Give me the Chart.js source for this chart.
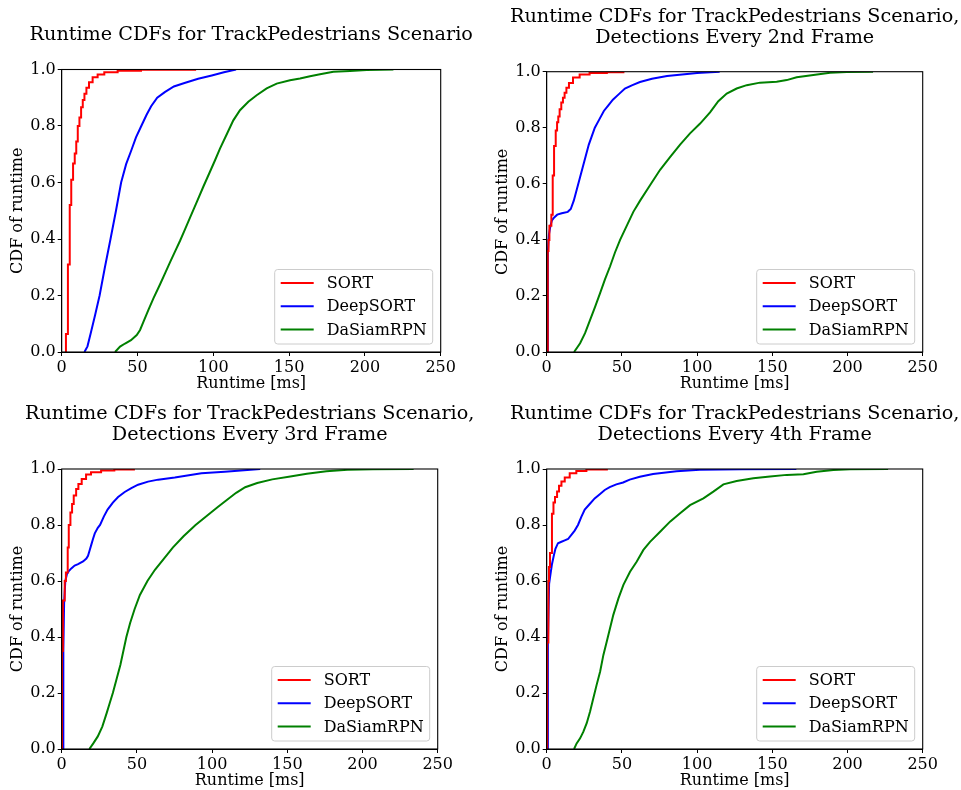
<!DOCTYPE html>
<html>
<head>
<meta charset="utf-8">
<script src="https://cdn.jsdelivr.net/npm/chart.js@4.4.1/dist/chart.umd.min.js"></script>
<style>
  html, body { margin: 0; padding: 0; background: #fff; overflow: hidden; }
  #wrap { position: relative; width: 961px; height: 790px; background: #fff; }
  canvas { position: absolute; }
</style>
</head>
<body>
<div id="wrap">
  <canvas id="c1" width="480" height="395" style="left:0px;top:0px"></canvas>
  <canvas id="c2" width="481" height="395" style="left:480px;top:0px"></canvas>
  <canvas id="c3" width="480" height="395" style="left:0px;top:395px"></canvas>
  <canvas id="c4" width="481" height="395" style="left:480px;top:395px"></canvas>
</div>
<script>
// ---------------- DATA ----------------
const seriesNames = ['SORT', 'DeepSORT', 'DaSiamRPN'];
const xTickValues = [0, 50, 100, 150, 200, 250];
const xTickLabels = ['0', '50', '100', '150', '200', '250'];
const yTickValues = [0, 0.2, 0.4, 0.6, 0.8, 1.0];
const yTickLabels = ['0.0', '0.2', '0.4', '0.6', '0.8', '1.0'];
const xAxisTitle = 'Runtime [ms]';
const yAxisTitle = 'CDF of runtime';

const title1 = ['Runtime CDFs for TrackPedestrians Scenario'];
const title2 = ['Runtime CDFs for TrackPedestrians Scenario,', 'Detections Every 2nd Frame'];
const title3 = ['Runtime CDFs for TrackPedestrians Scenario,', 'Detections Every 3rd Frame'];
const title4 = ['Runtime CDFs for TrackPedestrians Scenario,', 'Detections Every 4th Frame'];

// Panel 1: every frame
const p1SortX = [2.8, 2.8, 4.1, 5.3, 6.3, 7.5, 8.6, 9.6, 10.6, 11.7, 12.8, 13.9, 15.0, 16.3, 18.0, 20.4, 23.7, 28.1, 36.9, 52.3, 88];
const p1SortY = [0, 0.064, 0.31, 0.52, 0.61, 0.667, 0.703, 0.745, 0.80, 0.83, 0.866, 0.892, 0.914, 0.935, 0.955, 0.973, 0.982, 0.99, 0.996, 0.999, 1.0];
const p1DeepX = [15, 17, 19.3, 22, 25, 28.5, 32.2, 35.8, 39.2, 42.5, 46, 49, 52.5, 56, 59, 63, 68, 74, 81, 90, 99, 107, 115];
const p1DeepY = [0, 0.02, 0.07, 0.13, 0.2, 0.3, 0.4, 0.5, 0.6, 0.665, 0.715, 0.76, 0.8, 0.84, 0.87, 0.9, 0.92, 0.94, 0.952, 0.967, 0.979, 0.99, 1.0];
const p1DaX = [35.2, 38.5, 41.8, 45.7, 49.5, 51.7, 53.9, 57.2, 60.5, 64.9, 68.3, 71.5, 74.8, 78, 81.4, 85, 89, 93.4, 97.8, 101, 104.4, 108.8, 113.2, 117.6, 123.1, 128.6, 135.2, 141.8, 150.6, 157.2, 163.8, 170.4, 179.2, 190.2, 201.2, 218.8];
const p1DaY = [0, 0.019, 0.03, 0.042, 0.06, 0.078, 0.107, 0.149, 0.19, 0.24, 0.28, 0.318, 0.356, 0.393, 0.435, 0.48, 0.53, 0.585, 0.638, 0.677, 0.72, 0.77, 0.82, 0.856, 0.886, 0.909, 0.933, 0.95, 0.962, 0.968, 0.976, 0.983, 0.992, 0.995, 0.998, 1.0];

// Panel 2: detections every 2nd frame
const p2SortX = [0.7, 0.7, 1.2, 1.8, 3.1, 4.0, 4.9, 6.0, 6.9, 7.7, 8.6, 9.7, 10.8, 11.9, 13.1, 14.8, 17.5, 21.9, 28.5, 40, 51];
const p2SortY = [0, 0.36, 0.40, 0.45, 0.49, 0.63, 0.735, 0.79, 0.82, 0.84, 0.866, 0.89, 0.907, 0.925, 0.943, 0.96, 0.979, 0.99, 0.995, 0.998, 1.0];
const p2DeepX = [0.7, 0.8, 1.5, 2.5, 3.5, 5, 7, 10, 14, 16, 18, 20, 22, 24, 26, 28, 30, 32, 35, 38, 41, 44, 48, 52, 57, 62, 70, 80, 90, 100, 115];
const p2DeepY = [0, 0.36, 0.42, 0.45, 0.47, 0.48, 0.49, 0.495, 0.5, 0.51, 0.54, 0.58, 0.62, 0.66, 0.70, 0.74, 0.77, 0.80, 0.83, 0.86, 0.88, 0.90, 0.92, 0.94, 0.952, 0.963, 0.975, 0.985, 0.99, 0.995, 1.0];
const p2DaX = [18.2, 22.2, 25.5, 28.8, 32.1, 35.5, 38.8, 42.1, 45.4, 48.8, 53.2, 57.6, 62.1, 68.7, 75.4, 82, 88.7, 95.3, 102, 108.6, 114.1, 119.7, 126.3, 133, 141.8, 152.9, 159.6, 166.2, 177.3, 188.4, 199.5, 217];
const p2DaY = [0, 0.031, 0.067, 0.114, 0.16, 0.21, 0.26, 0.305, 0.355, 0.40, 0.45, 0.50, 0.54, 0.595, 0.65, 0.695, 0.74, 0.78, 0.815, 0.855, 0.895, 0.922, 0.94, 0.952, 0.961, 0.964, 0.97, 0.98, 0.988, 0.996, 0.999, 1.0];

// Panel 3: detections every 3rd frame
const p3SortX = [0.2, 0.2, 0.8, 2.0, 2.8, 4.0, 4.7, 5.8, 6.9, 8.0, 9.6, 11.1, 13.3, 16.2, 19.5, 26.2, 35, 48];
const p3SortY = [0, 0.35, 0.53, 0.6, 0.63, 0.72, 0.8, 0.845, 0.875, 0.905, 0.929, 0.946, 0.964, 0.98, 0.988, 0.995, 0.998, 1.0];
const p3DeepX = [1.0, 1.1, 1.6, 2.4, 3.5, 4.7, 6.4, 8.6, 10.9, 14.2, 16.4, 17.5, 18.6, 19.7, 20.8, 22, 24, 25.5, 28, 30.5, 34, 37.5, 41.9, 46.3, 50.8, 57.4, 64.1, 75.2, 92.9, 108.4, 132];
const p3DeepY = [0, 0.35, 0.52, 0.6, 0.625, 0.635, 0.645, 0.655, 0.66, 0.67, 0.68, 0.69, 0.71, 0.73, 0.75, 0.77, 0.79, 0.80, 0.83, 0.855, 0.88, 0.90, 0.918, 0.932, 0.944, 0.955, 0.962, 0.97, 0.985, 0.99, 1.0];
const p3DaX = [18.4, 21, 24, 27, 30, 32, 34, 36.5, 39, 41, 43, 45.5, 48.5, 52, 57, 62, 68, 74, 81, 89, 97, 104, 110, 116, 122, 130, 140, 152, 163, 176, 190, 207, 234];
const p3DaY = [0, 0.02, 0.045, 0.08, 0.13, 0.165, 0.2, 0.25, 0.3, 0.35, 0.4, 0.45, 0.5, 0.55, 0.6, 0.64, 0.68, 0.72, 0.76, 0.8, 0.835, 0.865, 0.89, 0.915, 0.935, 0.95, 0.963, 0.973, 0.983, 0.992, 0.997, 0.999, 1.0];

// Panel 4: detections every 4th frame
const p4SortX = [0.3, 0.3, 1.1, 1.5, 2.2, 3.5, 4.5, 5.5, 6.9, 8.2, 9.8, 12, 15.3, 19.7, 26.4, 40];
const p4SortY = [0, 0.38, 0.6, 0.65, 0.70, 0.84, 0.88, 0.9, 0.92, 0.94, 0.955, 0.97, 0.985, 0.993, 0.998, 1.0];
const p4DeepX = [0.7, 0.8, 1.6, 2.4, 3.5, 4.7, 5.8, 7.5, 9.8, 12, 14.2, 16.4, 18.6, 20.8, 23.1, 25.3, 28.6, 31.9, 35.3, 38.6, 41.9, 46.3, 50.8, 55.2, 61.9, 70.7, 86.3, 101.8, 130, 166];
const p4DeepY = [0, 0.38, 0.59, 0.62, 0.66, 0.69, 0.715, 0.735, 0.74, 0.745, 0.75, 0.765, 0.78, 0.80, 0.83, 0.855, 0.875, 0.895, 0.91, 0.925, 0.935, 0.945, 0.952, 0.962, 0.972, 0.982, 0.992, 0.997, 0.999, 1.0];
const p4DaX = [18.2, 19.9, 22.2, 24.4, 26.6, 28.8, 31, 33.2, 35.5, 37.7, 39.9, 42.1, 44.3, 47.7, 51, 55.4, 59.8, 64.3, 68.7, 75.4, 82, 88.7, 95.3, 104.2, 110.8, 117.5, 126.3, 137.4, 148.5, 159.6, 170.7, 179.5, 190.6, 201.7, 227];
const p4DaY = [0, 0.02, 0.038, 0.062, 0.092, 0.133, 0.181, 0.229, 0.276, 0.336, 0.383, 0.431, 0.479, 0.538, 0.586, 0.633, 0.669, 0.711, 0.74, 0.776, 0.812, 0.842, 0.871, 0.895, 0.919, 0.945, 0.957, 0.967, 0.973, 0.979, 0.981, 0.99, 0.996, 0.999, 1.0];

// ---------------- STYLE / LAYOUT ----------------
const FONT = "'DejaVu Serif', 'Liberation Serif', serif";
const COLORS = ['#ff0000', '#0000ff', '#008000'];

const panels = [
  { id: 'c1', title: title1, sx: p1SortX, sy: p1SortY, dx: p1DeepX, dy: p1DeepY, gx: p1DaX, gy: p1DaY,
    L: 61.7, R: 440.7, T: 69.5, B: 352, tTop: 24.8, yTitlePad: 8.7, xTitlePad: 1.2 },
  { id: 'c2', title: title2, sx: p2SortX, sy: p2SortY, dx: p2DeepX, dy: p2DeepY, gx: p2DaX, gy: p2DaY,
    L: 66.7, R: 442.7, T: 71.7, B: 352, tTop: 6.8, yTitlePad: 13.7, xTitlePad: 1.2 },
  { id: 'c3', title: title3, sx: p3SortX, sy: p3SortY, dx: p3DeepX, dy: p3DeepY, gx: p3DaX, gy: p3DaY,
    L: 61.7, R: 437.7, T: 74, B: 354, tTop: 8.5, yTitlePad: 8.7, xTitlePad: 0 },
  { id: 'c4', title: title4, sx: p4SortX, sy: p4SortY, dx: p4DeepX, dy: p4DeepY, gx: p4DaX, gy: p4DaY,
    L: 66.7, R: 442.7, T: 74, B: 354, tTop: 8.5, yTitlePad: 13.7, xTitlePad: 0 }
];

const TITLE_SIZE = 19.2, TITLE_LH = 1.1;

function pts(xs, ys) { return xs.map((x, i) => ({ x: x, y: ys[i] })); }

// Center title over the axes (like matplotlib)
const titleCenter = {
  id: 'titleCenter',
  afterLayout(chart) {
    const t = chart.titleBlock;
    if (!t) return;
    const cx = (chart.chartArea.left + chart.chartArea.right) / 2;
    t.left = cx - 240; t.right = cx + 240; t.width = 480;
  }
};

// Spines (all four sides, drawn above the lines) + inner legend
const frameAndLegend = {
  id: 'frameAndLegend',
  afterDatasetsDraw(chart) {
    const ctx = chart.ctx, a = chart.chartArea;
    ctx.save();
    ctx.strokeStyle = '#000';
    ctx.lineWidth = 1.1;
    ctx.strokeRect(a.left, a.top, a.right - a.left, a.bottom - a.top);
    ctx.restore();
  },
  afterDraw(chart) {
    const ctx = chart.ctx, a = chart.chartArea;
    const w = 158, h = 74.5;
    const x = a.right - 8 - w, y = a.bottom - 8 - h;
    ctx.save();
    const r = 3;
    ctx.beginPath();
    ctx.moveTo(x + r, y);
    ctx.arcTo(x + w, y, x + w, y + h, r);
    ctx.arcTo(x + w, y + h, x, y + h, r);
    ctx.arcTo(x, y + h, x, y, r);
    ctx.arcTo(x, y, x + w, y, r);
    ctx.closePath();
    ctx.fillStyle = 'rgba(255,255,255,0.8)';
    ctx.fill();
    ctx.strokeStyle = '#cccccc';
    ctx.lineWidth = 1;
    ctx.stroke();
    ctx.font = '16px ' + FONT;
    ctx.textBaseline = 'middle';
    ctx.textAlign = 'left';
    chart.data.datasets.forEach((ds, i) => {
      const cy = y + 13.4 + i * 23.3;
      ctx.strokeStyle = ds.borderColor;
      ctx.lineWidth = 2;
      ctx.beginPath();
      ctx.moveTo(x + 6, cy);
      ctx.lineTo(x + 39, cy);
      ctx.stroke();
      ctx.fillStyle = '#000';
      ctx.fillText(ds.label, x + 52, cy + 1);
    });
    ctx.restore();
  }
};

panels.forEach(p => {
  const canvas = document.getElementById(p.id);
  const W = canvas.width, H = canvas.height;
  const titlePadBottom = p.T - p.tTop - p.title.length * TITLE_SIZE * TITLE_LH;
  const series = [[p.sx, p.sy, 'before'], [p.dx, p.dy, false], [p.gx, p.gy, false]];
  new Chart(canvas, {
    type: 'line',
    data: {
      datasets: series.map((s, i) => ({
        label: seriesNames[i],
        data: pts(s[0], s[1]),
        borderColor: COLORS[i],
        backgroundColor: COLORS[i],
        borderWidth: 2,
        pointRadius: 0,
        tension: 0,
        stepped: s[2],
        fill: false,
        clip: 0
      }))
    },
    options: {
      responsive: false,
      animation: false,
      devicePixelRatio: 1,
      events: [],
      layout: { padding: { left: 0, right: W - p.R, top: 0, bottom: 0 } },
      plugins: {
        legend: { display: false },
        tooltip: { enabled: false },
        title: {
          display: true,
          text: p.title,
          color: '#000',
          font: { family: FONT, size: TITLE_SIZE, weight: 'normal', lineHeight: TITLE_LH },
          padding: { top: p.tTop, bottom: titlePadBottom }
        }
      },
      scales: {
        x: {
          type: 'linear',
          min: 0, max: 250,
          afterBuildTicks: s => { s.ticks = xTickValues.map(v => ({ value: v })); },
          afterFit: s => { s.height = H - p.B; },
          ticks: {
            color: '#000',
            font: { family: FONT, size: 16 },
            padding: 2,
            maxRotation: 0,
            autoSkip: false,
            callback: (v, i) => xTickLabels[i]
          },
          grid: { drawOnChartArea: false, drawTicks: true, tickLength: 4, color: '#000', lineWidth: 1 },
          border: { display: true, color: '#000', width: 1 },
          title: { display: true, text: xAxisTitle, color: '#000',
                   font: { family: FONT, size: 16, lineHeight: 1.2 },
                   padding: { top: 0, bottom: p.xTitlePad } }
        },
        y: {
          type: 'linear',
          min: 0, max: 1,
          afterBuildTicks: s => { s.ticks = yTickValues.map(v => ({ value: v })); },
          afterFit: s => { s.width = p.L; },
          ticks: {
            color: '#000',
            font: { family: FONT, size: 16 },
            padding: 2,
            autoSkip: false,
            callback: (v, i) => yTickLabels[i]
          },
          grid: { drawOnChartArea: false, drawTicks: true, tickLength: 4, color: '#000', lineWidth: 1 },
          border: { display: true, color: '#000', width: 1 },
          title: { display: true, text: yAxisTitle, color: '#000',
                   font: { family: FONT, size: 16, lineHeight: 1.2 },
                   padding: { top: p.yTitlePad, bottom: 0 } }
        }
      }
    },
    plugins: [titleCenter, frameAndLegend]
  });
});
</script>
</body>
</html>
